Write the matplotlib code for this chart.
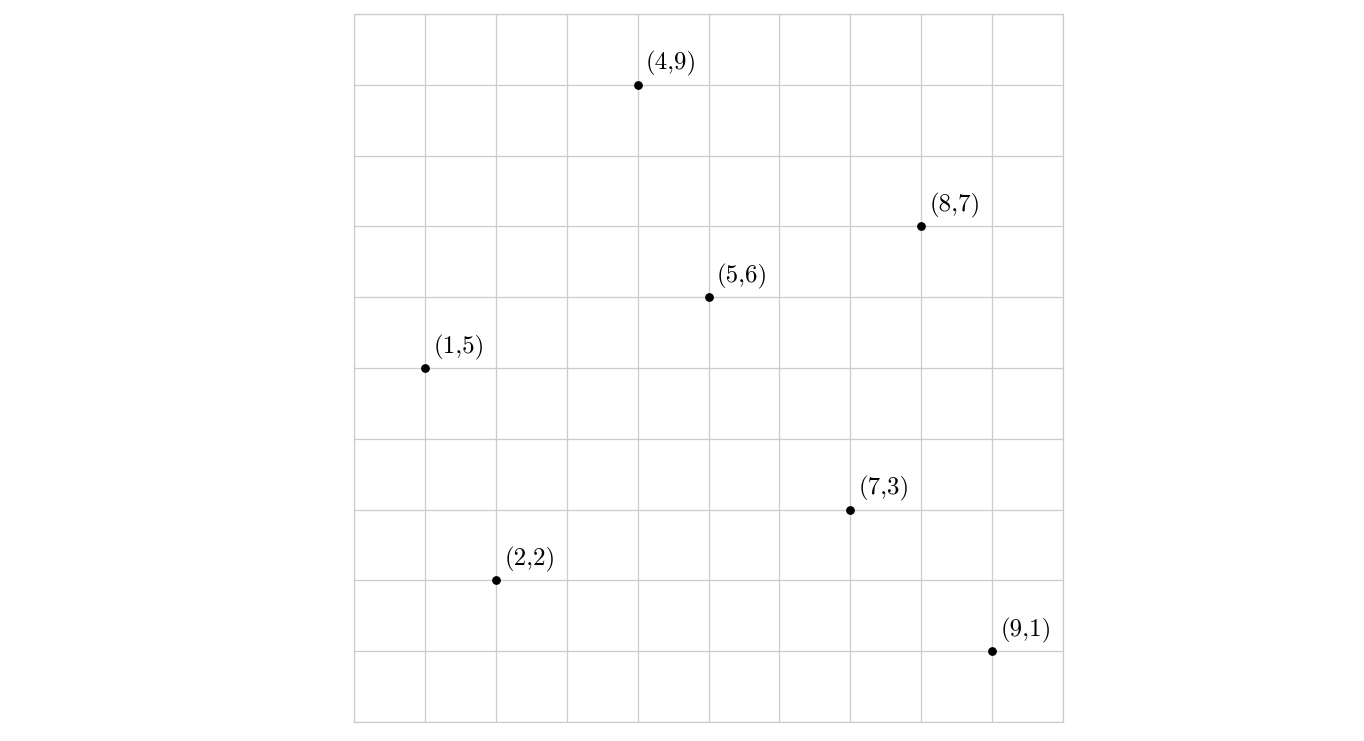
import matplotlib.pyplot as plt
import numpy as np

# points and their labels
xs = [4, 8, 5, 1, 7, 2, 9]
ys = [9, 7, 6, 5, 3, 2, 1]
labels = ["(%d,%d)" % (x, y) for x, y in zip(xs, ys)]

fig = plt.figure(figsize=(13.64, 7.41), dpi=100)
ax = fig.add_axes([354/1364, 1 - 722/741, (1063 - 354)/1364, (722 - 14)/741])

ax.set_xlim(0, 10)
ax.set_ylim(0, 10)
ax.set_xticks(np.arange(0, 11))
ax.set_yticks(np.arange(0, 11))
ax.grid(True, color='#cccccc', linewidth=0.9)
ax.tick_params(length=0, labelbottom=False, labelleft=False)
for s in ax.spines.values():
    s.set_color('#cccccc')
    s.set_linewidth(0.9)
ax.set_axisbelow(True)

ax.scatter(xs, ys, s=28, color='black', zorder=3)
for x, y, lab in zip(xs, ys, labels):
    ax.annotate(lab, (x, y), xytext=(6, 6), textcoords='offset points',
                fontsize=18, family='cmr10', ha='left', va='bottom')

fig.savefig('out.png', dpi=100)
